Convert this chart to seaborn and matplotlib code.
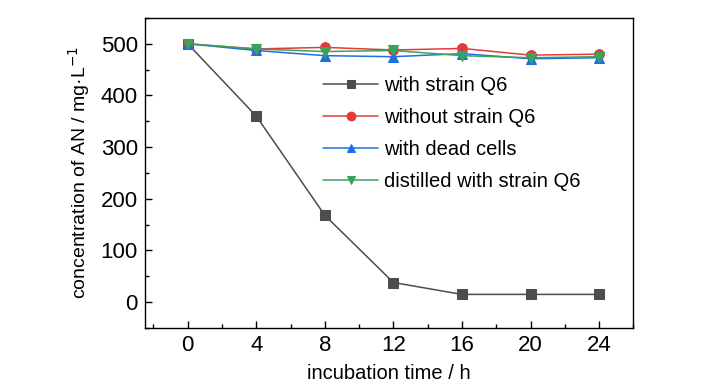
import numpy as np
import pandas as pd
import seaborn as sns
import matplotlib.pyplot as plt
from matplotlib.ticker import MultipleLocator

time_h = [0, 4, 8, 12, 16, 20, 24]
with_strain = [500, 360, 168, 38, 15, 15, 15]
without_strain = [500, 490, 493, 488, 491, 478, 480]
dead_cells = [500, 487, 477, 475, 481, 471, 473]
distilled = [500, 490, 485, 487, 477, 473, 475]

series_names = ["with strain Q6", "without strain Q6", "with dead cells", "distilled with strain Q6"]
series_vals = [with_strain, without_strain, dead_cells, distilled]
colors = ["#4d4d4d", "#e8383d", "#1f6fe0", "#3aa35a"]
markers = ["s", "o", "^", "v"]

df = pd.DataFrame({
    "time": time_h * 4,
    "conc": sum(series_vals, []),
    "series": sum([[n] * len(time_h) for n in series_names], []),
})

sns.set_style("white")
plt.rcParams["font.family"] = ["Liberation Sans", "DejaVu Sans"]
plt.rcParams["text.color"] = "black"
plt.rcParams["axes.labelcolor"] = "black"
plt.rcParams["xtick.color"] = "black"
plt.rcParams["ytick.color"] = "black"

fig = plt.figure(figsize=(7.28, 3.9), dpi=100)
ax = fig.add_axes([0.199, 0.159, 0.671, 0.795])

for name, c, m in zip(series_names, colors, markers):
    d = df[df["series"] == name]
    sns.lineplot(data=d, x="time", y="conc", ax=ax, color=c, marker=m, markersize=7,
                 markeredgecolor=c, linewidth=1.1, label=name)

ax.set_xlim(-2.5, 26)
ax.set_ylim(-50, 550)
ax.set_xticks(time_h)
ax.set_yticks([0, 100, 200, 300, 400, 500])
ax.xaxis.set_minor_locator(MultipleLocator(2))
ax.yaxis.set_minor_locator(MultipleLocator(50))
ax.tick_params(which="both", direction="in", bottom=True, left=True, labelsize=16)
ax.tick_params(which="major", length=5, width=1, pad=5)
ax.tick_params(which="minor", length=3, width=1)
for s in ax.spines.values():
    s.set_color("black")
    s.set_linewidth(1)

ax.set_xlabel("incubation time / h", fontsize=14.5, labelpad=6)
ax.set_ylabel("concentration of AN / mg·L$^{-1}$", fontsize=14, labelpad=6)

ax.legend(loc="upper left", bbox_to_anchor=(0.345, 0.845), frameon=False, fontsize=14.5,
          handlelength=2.7, labelspacing=0.65, handletextpad=0.3, borderpad=0,
          markerscale=0.9)

fig.savefig("out.png", dpi=100)
